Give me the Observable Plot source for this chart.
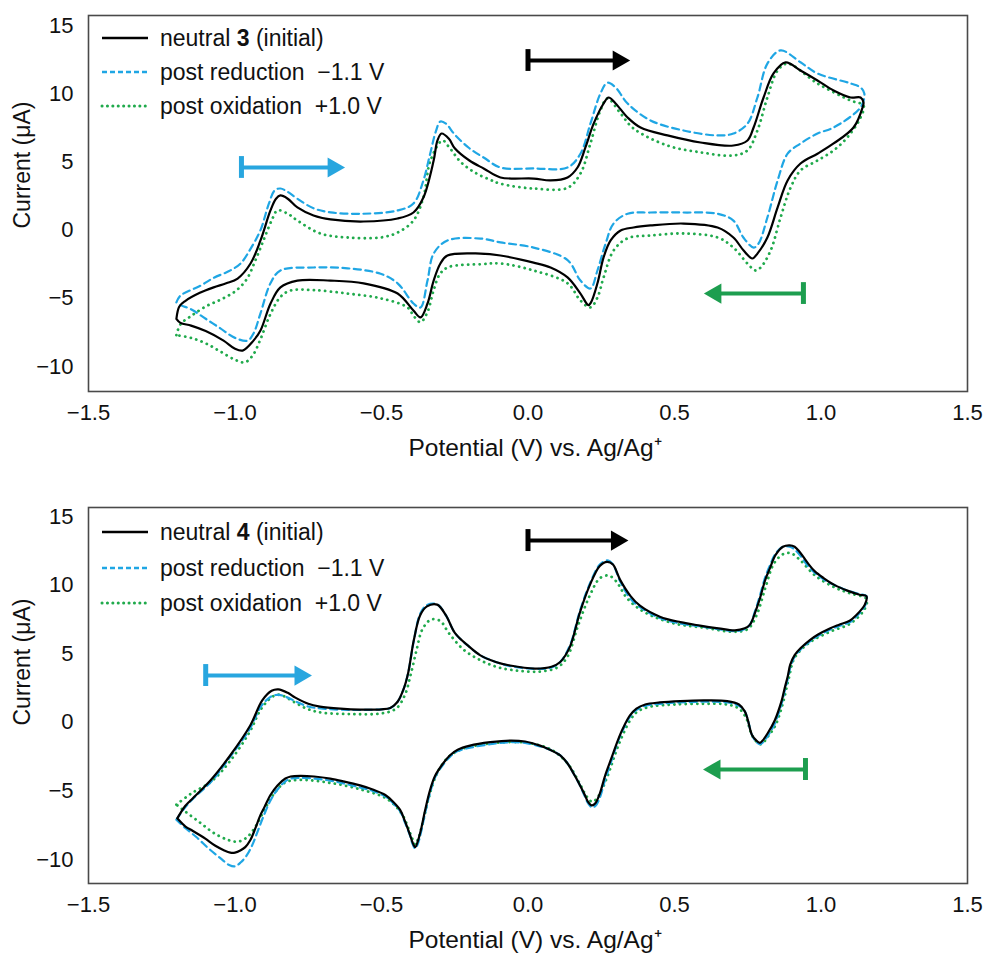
<!DOCTYPE html>
<html>
<head>
<meta charset="utf-8">
<script src="https://cdn.jsdelivr.net/npm/d3@7"></script>
<script src="https://cdn.jsdelivr.net/npm/@observablehq/plot@0.6"></script>
<style>
  body { margin: 0; background: #fff; font-family: "Liberation Sans", Arial, sans-serif; }
  .panel { position: relative; width: 984px; }
  .legend-row { position: absolute; left: 102px; height: 28px; display: flex; align-items: center;
                font-size: 23px; color: #111; white-space: pre; }
  .legend-row svg { width: 46px; height: 8px; margin-right: 12px; overflow: visible; }
</style>
</head>
<body>
<div id="panel3" class="panel"></div>
<div id="panel4" class="panel"></div>
<script>
// Axis ticks
const xTicks = [-1.5, -1.0, -0.5, 0.0, 0.5, 1.0, 1.5];
const yTicks = [-10, -5, 0, 5, 10, 15];

// Compound 3: cyclic voltammograms [potential (V), current (µA)]
// each loop: forward scan left → right, then the return scan right → left
const neutral3 = [
  [-1.2,-6.5],[-1.19,-5.6],[-1.17,-5.2],[-1.12,-4.6],[-1.073,-4.2],[-1.03,-3.9],[-0.991,-3.55],[-0.947,-2.45],
  [-0.913,-0.76],[-0.879,1.44],[-0.86,2.3],[-0.845,2.54],[-0.82,2.3],[-0.787,1.66],[-0.732,1.07],[-0.674,0.78],
  [-0.561,0.63],[-0.445,0.85],[-0.391,1.29],[-0.357,2.39],[-0.322,5.1],[-0.309,6.57],[-0.295,7.08],[-0.27,6.7],
  [-0.25,6.0],[-0.2,5.1],[-0.15,4.5],[-0.094,3.86],[0.019,3.78],[0.077,3.64],[0.135,3.86],[0.169,4.59],
  [0.196,6.06],[0.224,7.8],[0.258,9.28],[0.275,9.72],[0.299,9.28],[0.34,8.25],[0.384,7.52],[0.476,6.94],
  [0.589,6.42],[0.701,6.2],[0.749,6.57],[0.77,7.52],[0.804,9.72],[0.838,11.48],[0.879,12.29],[0.93,11.7],
  [0.988,10.97],[1.043,10.23],[1.101,9.72],[1.135,9.72],[1.145,9.35],
  [1.142,9.0],[1.111,7.52],[1.043,6.35],[0.988,5.6],[0.93,4.88],[0.886,3.64],[0.852,1.66],[0.817,-0.54],
  [0.783,-1.72],[0.766,-2.08],[0.736,-1.5],[0.701,-0.54],[0.647,0.19],[0.531,0.48],[0.418,0.34],[0.36,0.19],
  [0.316,-0.03],[0.282,-0.76],[0.258,-2.0],[0.237,-3.9],[0.215,-5.3],[0.206,-5.5],[0.179,-4.65],[0.135,-3.47],
  [0.077,-2.74],[0.019,-2.38],[-0.094,-1.86],[-0.162,-1.72],[-0.275,-1.86],[-0.299,-2.45],[-0.322,-3.7],
  [-0.343,-5.38],[-0.367,-6.4],[-0.391,-5.9],[-0.445,-4.65],[-0.561,-3.9],[-0.674,-3.7],[-0.787,-3.7],
  [-0.845,-4.2],[-0.879,-5.4],[-0.913,-7.36],[-0.937,-8.1],[-0.974,-8.83],[-1.0,-8.7],[-1.039,-8.1],
  [-1.1,-7.4],[-1.15,-7.0],[-1.186,-6.8],[-1.2,-6.5]
];
const reduced3 = [
  [-1.2,-5.3],[-1.186,-4.8],[-1.12,-4.1],[-1.073,-3.5],[-1.02,-3.0],[-0.981,-2.45],[-0.945,-1.3],[-0.913,0.0],
  [-0.885,1.9],[-0.865,2.9],[-0.845,3.05],[-0.82,2.8],[-0.787,2.3],[-0.732,1.6],[-0.674,1.3],[-0.561,1.2],
  [-0.445,1.44],[-0.391,1.95],[-0.357,3.64],[-0.335,5.5],[-0.315,7.2],[-0.299,7.96],[-0.28,7.8],[-0.25,7.0],
  [-0.2,6.0],[-0.15,5.3],[-0.094,4.59],[0.019,4.52],[0.135,4.59],[0.179,5.6],[0.213,7.8],[0.247,10.0],
  [0.271,10.8],[0.299,10.45],[0.34,9.28],[0.418,8.04],[0.531,7.3],[0.647,6.94],[0.701,7.08],[0.749,7.8],
  [0.783,9.72],[0.817,12.2],[0.862,13.17],[0.93,12.3],[0.988,11.48],[1.101,10.75],[1.135,10.45],[1.148,10.0],
  [1.135,9.0],[1.043,7.52],[0.988,7.08],[0.93,6.35],[0.886,5.6],[0.852,3.64],[0.817,0.92],[0.787,-0.98],
  [0.77,-1.28],[0.735,-0.54],[0.701,0.7],[0.647,1.2],[0.531,1.29],[0.418,1.29],[0.34,1.2],[0.292,0.48],
  [0.265,-0.98],[0.237,-2.96],[0.213,-4.28],[0.179,-3.7],[0.135,-2.2],[0.019,-1.28],[-0.094,-0.9],
  [-0.162,-0.62],[-0.275,-0.76],[-0.322,-1.72],[-0.343,-3.7],[-0.367,-5.67],[-0.39,-5.4],[-0.445,-3.9],
  [-0.503,-3.2],[-0.616,-2.8],[-0.732,-2.74],[-0.845,-2.96],[-0.879,-3.9],[-0.913,-6.1],[-0.937,-7.58],
  [-0.957,-8.1],[-1.0,-7.9],[-1.05,-7.2],[-1.1,-6.5],[-1.15,-5.8],[-1.186,-5.5],[-1.2,-5.3]
];
const oxidized3 = [
  [-1.2,-7.7],[-1.186,-6.9],[-1.15,-6.3],[-1.1,-5.6],[-1.05,-5.1],[-1.0,-4.5],[-0.96,-3.6],[-0.93,-2.2],
  [-0.9,-0.6],[-0.875,0.7],[-0.855,1.44],[-0.82,1.2],[-0.787,0.7],[-0.708,-0.25],[-0.616,-0.54],[-0.503,-0.54],
  [-0.445,-0.18],[-0.391,0.7],[-0.357,2.4],[-0.333,5.1],[-0.292,6.57],[-0.27,6.1],[-0.23,5.0],[-0.18,4.2],
  [-0.13,3.7],[-0.094,3.4],[0.019,3.05],[0.135,3.1],[0.179,4.15],[0.213,6.35],[0.247,8.77],[0.271,9.65],
  [0.316,8.55],[0.36,7.45],[0.476,6.2],[0.589,5.7],[0.701,5.47],[0.749,5.84],[0.783,7.3],[0.817,9.72],
  [0.852,11.7],[0.886,12.2],[0.988,10.75],[1.101,9.5],[1.145,9.13],
  [1.135,8.25],[1.09,6.8],[1.043,5.84],[0.988,5.1],[0.93,4.37],[0.896,3.1],[0.862,0.92],[0.828,-1.5],
  [0.794,-2.74],[0.776,-2.96],[0.749,-2.45],[0.701,-1.28],[0.647,-0.54],[0.531,-0.25],[0.418,-0.4],
  [0.34,-0.6],[0.292,-1.5],[0.258,-3.47],[0.237,-4.94],[0.213,-5.67],[0.179,-5.16],[0.135,-3.9],
  [0.019,-2.96],[-0.094,-2.45],[-0.16,-2.5],[-0.27,-2.7],[-0.3,-3.2],[-0.322,-4.4],[-0.343,-6.0],
  [-0.367,-6.75],[-0.39,-6.3],[-0.411,-5.67],[-0.503,-5.0],[-0.616,-4.65],[-0.73,-4.4],[-0.811,-4.43],
  [-0.845,-4.9],[-0.88,-6.2],[-0.913,-8.0],[-0.94,-9.2],[-0.967,-9.7],[-1.0,-9.5],[-1.05,-8.9],
  [-1.1,-8.3],[-1.15,-7.9],[-1.2,-7.7]
];

// Compound 4
const neutral4 = [
  [-1.197,-7.0],[-1.17,-6.1],[-1.152,-5.7],[-1.084,-4.24],[-1.016,-2.4],[-0.948,-0.23],[-0.907,1.6],[-0.875,2.3],
  [-0.852,2.4],[-0.82,2.15],[-0.794,1.8],[-0.75,1.35],[-0.71,1.15],[-0.64,1.0],[-0.573,0.93],[-0.5,0.95],
  [-0.47,1.05],[-0.445,1.5],[-0.425,2.4],[-0.409,3.6],[-0.39,5.96],[-0.368,7.8],[-0.345,8.45],[-0.31,8.58],
  [-0.28,7.8],[-0.249,6.5],[-0.2,5.5],[-0.164,4.9],[-0.11,4.4],[-0.061,4.14],[0.024,3.92],[0.08,4.05],
  [0.11,4.4],[0.143,5.5],[0.177,8.0],[0.211,10.0],[0.245,11.4],[0.27,11.7],[0.29,11.5],[0.314,10.4],
  [0.35,9.2],[0.382,8.5],[0.45,7.7],[0.52,7.3],[0.587,7.05],[0.65,6.85],[0.706,6.7],[0.74,6.85],
  [0.757,7.1],[0.775,8.0],[0.791,9.0],[0.81,10.4],[0.825,11.2],[0.845,12.2],[0.87,12.8],[0.893,12.9],
  [0.91,12.8],[0.928,12.4],[0.955,11.6],[0.979,11.0],[1.01,10.5],[1.047,10.0],[1.09,9.6],[1.132,9.3],
  [1.155,9.2],
  [1.15,8.6],[1.12,7.8],[1.098,7.4],[1.06,7.1],[1.03,6.84],[0.99,6.4],[0.962,6.0],[0.93,5.4],[0.91,4.9],
  [0.895,4.2],[0.887,3.4],[0.875,2.4],[0.866,1.6],[0.842,0.13],[0.818,-0.8],[0.8,-1.35],[0.791,-1.5],
  [0.778,-1.3],[0.764,-0.9],[0.75,0.2],[0.74,0.8],[0.72,1.3],[0.68,1.55],[0.6,1.6],[0.52,1.55],[0.45,1.45],
  [0.4,1.3],[0.37,1.0],[0.348,0.5],[0.325,-0.4],[0.307,-1.3],[0.285,-2.6],[0.263,-3.9],[0.245,-5.2],
  [0.23,-5.9],[0.218,-6.06],[0.205,-5.8],[0.194,-5.3],[0.175,-4.5],[0.16,-3.9],[0.135,-3.0],[0.109,-2.4],
  [0.075,-2.0],[0.041,-1.7],[-0.01,-1.4],[-0.061,-1.33],[-0.129,-1.45],[-0.198,-1.7],[-0.24,-2.0],
  [-0.266,-2.4],[-0.29,-3.0],[-0.317,-3.9],[-0.335,-5.0],[-0.351,-6.4],[-0.365,-7.8],[-0.375,-8.6],
  [-0.385,-9.1],[-0.395,-8.7],[-0.402,-8.25],[-0.42,-7.2],[-0.436,-6.4],[-0.46,-5.8],[-0.487,-5.3],
  [-0.53,-4.9],[-0.573,-4.6],[-0.63,-4.3],[-0.675,-4.1],[-0.73,-3.95],[-0.777,-3.9],[-0.81,-3.95],
  [-0.828,-4.1],[-0.855,-4.6],[-0.879,-5.3],[-0.9,-6.2],[-0.914,-6.8],[-0.93,-7.7],[-0.948,-8.6],
  [-0.965,-9.1],[-0.982,-9.35],[-1.0,-9.5],[-1.016,-9.5],[-1.04,-9.3],[-1.067,-9.0],[-1.1,-8.5],
  [-1.118,-8.25],[-1.145,-7.9],[-1.169,-7.6],[-1.197,-7.0]
];
const reduced4 = [
  [-1.2,-7.1],[-1.17,-6.2],[-1.14,-5.5],[-1.08,-4.3],[-1.016,-2.5],[-0.95,-0.5],[-0.91,1.2],[-0.875,1.9],
  [-0.85,2.0],[-0.82,1.8],[-0.79,1.5],[-0.75,1.15],[-0.7,1.0],[-0.6,0.9],[-0.5,0.95],[-0.47,1.05],
  [-0.445,1.5],[-0.425,2.4],[-0.409,3.6],[-0.39,5.9],[-0.368,7.9],[-0.345,8.55],[-0.31,8.6],[-0.28,7.8],
  [-0.249,6.5],[-0.2,5.5],[-0.164,4.9],[-0.11,4.4],[-0.061,4.1],[0.024,3.9],[0.08,4.0],[0.11,4.4],
  [0.143,5.6],[0.177,8.1],[0.211,10.1],[0.245,11.5],[0.27,11.8],[0.29,11.5],[0.314,10.3],[0.35,9.0],
  [0.382,8.4],[0.45,7.6],[0.52,7.2],[0.587,7.0],[0.65,6.8],[0.706,6.65],[0.74,6.8],[0.757,7.1],
  [0.775,8.1],[0.791,9.2],[0.81,10.6],[0.825,11.4],[0.845,12.3],[0.87,12.8],[0.893,12.8],[0.91,12.6],
  [0.928,12.2],[0.955,11.4],[0.979,10.9],[1.01,10.4],[1.047,10.0],[1.09,9.6],[1.132,9.35],[1.155,9.2],
  [1.15,8.5],[1.12,7.7],[1.098,7.3],[1.06,7.0],[1.03,6.75],[0.99,6.3],[0.962,5.9],[0.93,5.3],[0.91,4.8],
  [0.895,4.0],[0.887,3.2],[0.875,2.2],[0.866,1.4],[0.842,-0.1],[0.818,-1.0],[0.8,-1.5],[0.791,-1.6],
  [0.778,-1.4],[0.764,-0.9],[0.75,0.2],[0.74,0.8],[0.72,1.2],[0.68,1.45],[0.6,1.5],[0.52,1.45],[0.45,1.35],
  [0.4,1.2],[0.37,0.9],[0.348,0.4],[0.325,-0.5],[0.307,-1.4],[0.285,-2.8],[0.263,-4.2],[0.245,-5.5],
  [0.23,-6.1],[0.218,-6.2],[0.205,-5.9],[0.194,-5.4],[0.175,-4.5],[0.16,-3.9],[0.135,-3.0],[0.109,-2.4],
  [0.075,-2.0],[0.041,-1.75],[-0.01,-1.5],[-0.061,-1.45],[-0.129,-1.6],[-0.198,-1.85],[-0.24,-2.1],
  [-0.266,-2.5],[-0.29,-3.1],[-0.317,-4.0],[-0.335,-5.2],[-0.351,-6.6],[-0.365,-8.0],[-0.375,-8.8],
  [-0.385,-9.2],[-0.395,-8.8],[-0.402,-8.3],[-0.42,-7.3],[-0.436,-6.5],[-0.46,-5.9],[-0.487,-5.4],
  [-0.53,-5.0],[-0.573,-4.75],[-0.63,-4.45],[-0.675,-4.25],[-0.73,-4.1],[-0.777,-4.05],[-0.81,-4.1],
  [-0.828,-4.3],[-0.855,-4.9],[-0.879,-5.7],[-0.9,-6.7],[-0.92,-7.8],[-0.94,-8.9],[-0.96,-9.7],
  [-0.98,-10.2],[-1.0,-10.5],[-1.02,-10.4],[-1.05,-9.9],[-1.09,-9.2],[-1.13,-8.4],[-1.17,-7.7],[-1.2,-7.1]
];
const oxidized4 = [
  [-1.2,-6.0],[-1.15,-5.2],[-1.08,-4.3],[-1.016,-2.8],[-0.95,-0.7],[-0.91,1.0],[-0.87,1.9],[-0.845,2.0],
  [-0.8,1.5],[-0.75,0.95],[-0.7,0.7],[-0.6,0.6],[-0.5,0.65],[-0.45,1.0],[-0.42,2.0],[-0.4,3.5],[-0.38,5.3],
  [-0.36,6.8],[-0.33,7.5],[-0.3,7.4],[-0.27,6.5],[-0.22,5.3],[-0.16,4.5],[-0.1,4.0],[-0.03,3.75],[0.04,3.7],
  [0.1,4.0],[0.135,4.8],[0.17,7.0],[0.21,9.2],[0.245,10.5],[0.275,10.7],[0.3,10.3],[0.34,9.0],[0.4,8.0],
  [0.5,7.2],[0.6,6.9],[0.7,6.6],[0.75,6.8],[0.78,7.8],[0.81,9.8],[0.84,11.6],[0.875,12.3],[0.9,12.3],
  [0.93,11.8],[0.98,10.7],[1.05,9.8],[1.1,9.4],[1.155,9.0],
  [1.15,8.3],[1.1,7.2],[1.03,6.6],[0.96,5.8],[0.91,4.7],[0.89,3.2],[0.87,1.4],[0.845,-0.2],[0.82,-1.0],
  [0.795,-1.6],[0.775,-1.3],[0.76,-0.7],[0.745,0.3],[0.72,1.0],[0.68,1.3],[0.6,1.35],[0.5,1.3],[0.42,1.15],
  [0.375,0.8],[0.35,0.2],[0.31,-1.6],[0.27,-4.0],[0.24,-5.4],[0.22,-5.8],[0.2,-5.4],[0.175,-4.4],
  [0.135,-3.0],[0.08,-2.0],[0.0,-1.5],[-0.08,-1.45],[-0.15,-1.6],[-0.22,-1.9],[-0.27,-2.5],[-0.31,-3.7],
  [-0.34,-5.6],[-0.36,-7.4],[-0.375,-8.5],[-0.385,-8.9],[-0.4,-8.2],[-0.43,-6.7],[-0.48,-5.6],[-0.57,-4.9],
  [-0.68,-4.4],[-0.78,-4.2],[-0.83,-4.4],[-0.87,-5.3],[-0.9,-6.4],[-0.93,-7.6],[-0.96,-8.4],[-0.99,-8.7],
  [-1.02,-8.6],[-1.07,-8.1],[-1.12,-7.3],[-1.17,-6.5],[-1.2,-6.0]
];

// Scan-direction arrows: start potential, end potential, current level
const arrows3 = [
  {from: -0.978, to: -0.647, level: 4.59, color: "blue"},
  {from: 0.0, to: 0.326, level: 12.43, color: "black"},
  {from: 0.94, to: 0.623, level: -4.65, color: "green"}
];
const arrows4 = [
  {from: -1.1, to: -0.76, level: 3.41, color: "blue"},
  {from: 0.0, to: 0.32, level: 13.25, color: "black"},
  {from: 0.947, to: 0.62, level: -3.44, color: "green"}
];

const legendLabels = [
  {html: "neutral <b>N</b> (initial)", key: "black"},
  {html: "post reduction  \u22121.1 V", key: "blue"},
  {html: "post oxidation  +1.0 V", key: "green"}
];

const COLORS = {black: "#000000", blue: "#1fa6e4", green: "#20aa4c"};
const ARROW_COLORS = {black: "#000000", blue: "#28a6df", green: "#1d9e4f"};
const FONT = '"Liberation Sans", Arial, sans-serif';

function chart({neutral, reduced, oxidized, arrows, yDomain, height, marginTop, marginBottom, yLabelShift}) {
  const X = d => d[0], Y = d => d[1];
  return Plot.plot({
    width: 984,
    height,
    marginTop,
    marginBottom,
    marginLeft: 88,
    marginRight: 17,
    style: {fontFamily: FONT, fontSize: "22px", color: "#111", background: "#fff", overflow: "visible"},
    x: {domain: [-1.5, 1.5]},
    y: {domain: yDomain},
    marks: [
      Plot.axisX({ticks: xTicks, tickFormat: ".1f", tickSize: 0, tickPadding: 13, label: null, fontSize: 22}),
      Plot.axisY({ticks: yTicks, tickFormat: d3.format("d"), tickSize: 0, tickPadding: 15, label: null, fontSize: 22}),
      Plot.frame({stroke: "#4a4a4a", strokeWidth: 1.6}),
      Plot.line(oxidized, {x: X, y: Y, stroke: COLORS.green, strokeWidth: 2.8, strokeDasharray: "0.1 5.6",
        strokeLinecap: "round", curve: "catmull-rom"}),
      Plot.line(reduced, {x: X, y: Y, stroke: COLORS.blue, strokeWidth: 2.2, strokeDasharray: "7 4.5",
        curve: "catmull-rom"}),
      Plot.line(neutral, {x: X, y: Y, stroke: COLORS.black, strokeWidth: 2.2, curve: "catmull-rom"}),
      // arrows: shaft, start tick, head
      Plot.ruleY(arrows, {x1: "from", x2: "to", y: "level", stroke: d => ARROW_COLORS[d.color], strokeWidth: 4}),
      Plot.ruleX(arrows, {x: "from", y1: d => d.level - 0.8, y2: d => d.level + 0.8,
        stroke: d => ARROW_COLORS[d.color], strokeWidth: 5}),
      Plot.dot(arrows.filter(d => d.to > d.from), {x: "to", y: "level", symbol: "triangle", r: 7.5, dx: -5,
        rotate: 90, fill: d => ARROW_COLORS[d.color], stroke: "none"}),
      Plot.dot(arrows.filter(d => d.to < d.from), {x: "to", y: "level", symbol: "triangle", r: 7.5, dx: 5,
        rotate: -90, fill: d => ARROW_COLORS[d.color], stroke: "none"}),
      // axis titles
      Plot.text(["Current (\u03bcA)"], {frameAnchor: "left", rotate: -90, dx: -66, dy: yLabelShift,
        fontSize: 23, fill: "#111"}),
      Plot.text(["Potential (V) vs. Ag/Ag\u207a"], {frameAnchor: "bottom", dy: 64, dx: 7,
        fontSize: 24.5, fill: "#111"})
    ]
  });
}

function legend(container, compound, rowTops) {
  legendLabels.forEach((row, i) => {
    const div = document.createElement("div");
    div.className = "legend-row";
    div.style.top = rowTops[i] + "px";
    const dash = row.key === "blue" ? 'stroke-dasharray="5 3" stroke-width="2.4"'
      : row.key === "green" ? 'stroke-dasharray="0.1 5.3" stroke-linecap="round" stroke-width="3"'
      : 'stroke-width="2.6"';
    div.innerHTML = `<svg viewBox="0 0 46 8"><line x1="0" x2="46" y1="4" y2="4" stroke="${COLORS[row.key]}" ${dash}/></svg>`
      + `<span>${row.html.replace("N", compound)}</span>`;
    container.appendChild(div);
  });
}

const p3 = document.getElementById("panel3");
p3.appendChild(chart({neutral: neutral3, reduced: reduced3, oxidized: oxidized3, arrows: arrows3,
  yDomain: [-11.83, 15.73], height: 480, marginTop: 15, marginBottom: 89, yLabelShift: 25}));
legend(p3, "3", [24, 58, 92]);

const p4 = document.getElementById("panel4");
p4.appendChild(chart({neutral: neutral4, reduced: reduced4, oxidized: oxidized4, arrows: arrows4,
  yDomain: [-11.75, 15.66], height: 479, marginTop: 27, marginBottom: 76, yLabelShift: 30}));
legend(p4, "4", [38, 74, 109]);
</script>
</body>
</html>
